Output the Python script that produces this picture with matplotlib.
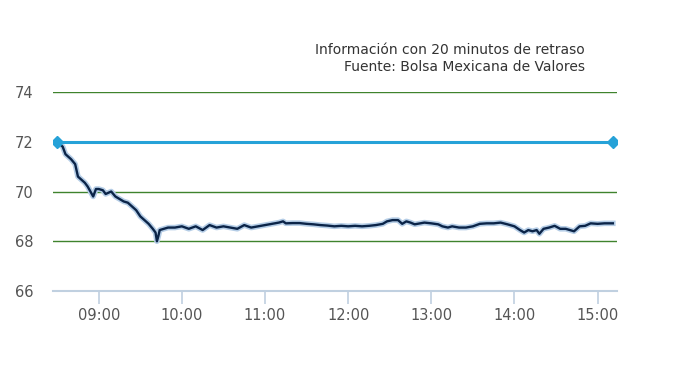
import pandas as pd
import matplotlib.pyplot as plt
import matplotlib.dates as mdates

times = ["08:30", "08:32", "08:34", "08:36", "08:38", "08:40", "08:43", "08:45",
         "08:47", "08:50", "08:52", "08:54", "08:56", "08:58", "09:00", "09:03",
         "09:05", "09:07", "09:09", "09:12", "09:15", "09:18", "09:21", "09:24",
         "09:27", "09:30", "09:33", "09:36", "09:39", "09:41", "09:42", "09:43",
         "09:44", "09:47", "09:50", "09:55", "10:00", "10:05", "10:10", "10:15",
         "10:20", "10:25", "10:30", "10:35", "10:40", "10:45", "10:50", "10:55",
         "11:00", "11:05", "11:10", "11:13", "11:15", "11:20", "11:25", "11:30",
         "11:35", "11:40", "11:45", "11:50", "11:55", "12:00", "12:05", "12:10",
         "12:15", "12:20", "12:25", "12:28", "12:32", "12:36", "12:39", "12:42",
         "12:45", "12:48", "12:52", "12:55", "13:00", "13:05", "13:08", "13:12",
         "13:15", "13:20", "13:25", "13:30", "13:35", "13:40", "13:45", "13:50",
         "13:55", "14:00", "14:04", "14:07", "14:10", "14:13", "14:16", "14:18",
         "14:21", "14:25", "14:29", "14:33", "14:37", "14:40", "14:43", "14:47",
         "14:51", "14:55", "15:00", "15:05", "15:11"]
prices = [72.00, 71.90, 71.80, 71.50, 71.40, 71.30, 71.10, 70.60,
          70.50, 70.35, 70.20, 70.00, 69.80, 70.10, 70.10, 70.05,
          69.90, 69.95, 70.00, 69.80, 69.70, 69.60, 69.55, 69.40,
          69.25, 69.00, 68.85, 68.70, 68.50, 68.35, 68.00, 68.20,
          68.45, 68.50, 68.55, 68.55, 68.60, 68.50, 68.60, 68.45,
          68.65, 68.55, 68.60, 68.55, 68.50, 68.65, 68.55, 68.60,
          68.65, 68.70, 68.75, 68.80, 68.72, 68.73, 68.73, 68.70,
          68.68, 68.65, 68.63, 68.60, 68.62, 68.60, 68.62, 68.60,
          68.62, 68.65, 68.70, 68.80, 68.85, 68.85, 68.70, 68.80,
          68.75, 68.68, 68.72, 68.75, 68.72, 68.68, 68.60, 68.55,
          68.60, 68.55, 68.55, 68.60, 68.70, 68.72, 68.72, 68.75,
          68.68, 68.60, 68.45, 68.35, 68.45, 68.40, 68.45, 68.30,
          68.50, 68.55, 68.62, 68.50, 68.50, 68.45, 68.40, 68.60,
          68.62, 68.72, 68.70, 68.72, 68.72]
prev_close = 72.0
y_ticks = [66, 68, 70, 72, 74]
x_ticks = ["09:00", "10:00", "11:00", "12:00", "13:00", "14:00", "15:00"]

day = "2014-01-02 "
t = pd.to_datetime([day + s for s in times])
xt = pd.to_datetime([day + s for s in x_ticks])

fig = plt.figure(figsize=(7, 3.7), dpi=100)
ax = fig.add_axes([53 / 700, 1 - 291 / 370, 564 / 700, 199 / 370])

ax.set_ylim(66, 74)
ax.set_xlim(pd.Timestamp(day + "08:27"), pd.Timestamp(day + "15:14"))

for v in y_ticks[1:]:
    ax.axhline(v, color="#3f832d", lw=1, zorder=1)

ax.plot(t, prices, color="#b5cde6", lw=4, solid_joinstyle="round", zorder=4)
ax.plot(t, prices, color="#0b2448", lw=1.7, solid_joinstyle="round", zorder=5)
ax.plot([t[0], t[-1]], [prev_close, prev_close], color="#26a2d8", lw=2.2,
        marker="D", markersize=6, zorder=6)

for s in ["top", "right", "left"]:
    ax.spines[s].set_visible(False)
ax.spines["bottom"].set_color("#c0d0e0")
ax.spines["bottom"].set_linewidth(1.5)

ax.set_yticks(y_ticks)
ax.set_xticks(xt)
ax.xaxis.set_major_formatter(mdates.DateFormatter("%H:%M"))
ax.tick_params(axis="y", length=0, pad=14, labelsize=10.5, labelcolor="#555555")
ax.tick_params(axis="x", length=9, width=1.2, color="#c0d0e0", pad=3,
               labelsize=10.5, labelcolor="#555555")

fig.text(585 / 700, 1 - 50 / 370, "Información con 20 minutos de retraso",
         ha="right", va="center", fontsize=10, color="#333333")
fig.text(585 / 700, 1 - 67 / 370, "Fuente: Bolsa Mexicana de Valores",
         ha="right", va="center", fontsize=10, color="#333333")

fig.savefig("out.png", dpi=100)
